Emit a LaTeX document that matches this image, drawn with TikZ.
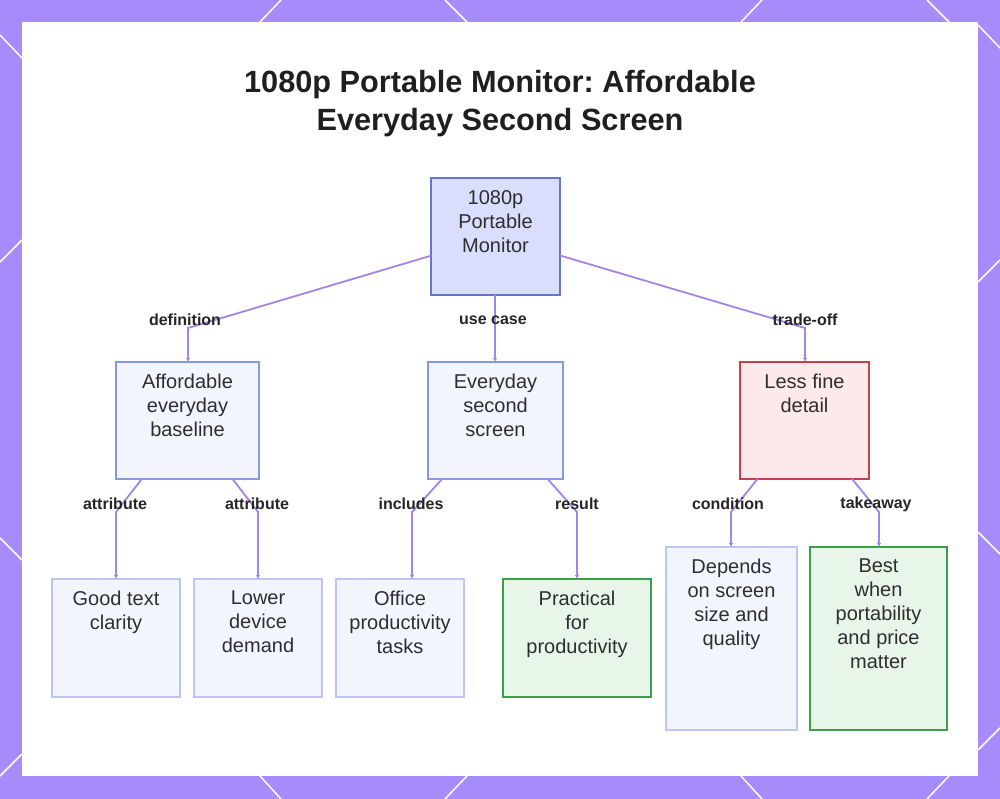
\documentclass[tikz,border=0pt]{standalone}
\usepackage{fontspec}
\setmainfont{Liberation Sans}
\usetikzlibrary{arrows.meta}
\frenchspacing
\definecolor{bgpurple}{HTML}{A78BFA}
\definecolor{rootfill}{HTML}{D9DEFC}
\definecolor{rootdraw}{HTML}{6A74CC}
\definecolor{bluefill}{HTML}{F3F5FE}
\definecolor{bluedraw}{HTML}{8797E0}
\definecolor{lightdraw}{HTML}{BEC5F2}
\definecolor{redfill}{HTML}{FDE8EB}
\definecolor{reddraw}{HTML}{C73E4C}
\definecolor{greenfill}{HTML}{E8F5E9}
\definecolor{greendraw}{HTML}{3BA04A}
\definecolor{conncol}{HTML}{A384E8}
\definecolor{txtcol}{HTML}{2E2E2E}
\tikzset{
  boxbase/.style={draw, line width=1.4pt, inner sep=0pt, outer sep=0pt, anchor=north west},
  rootbox/.style={boxbase, fill=rootfill, draw=rootdraw},
  midbox/.style={boxbase, fill=bluefill, draw=bluedraw},
  leafbox/.style={boxbase, fill=bluefill, draw=lightdraw},
  redbox/.style={boxbase, fill=redfill, draw=reddraw},
  greenbox/.style={boxbase, fill=greenfill, draw=greendraw},
  boxtxt/.style={anchor=north, inner sep=0pt, align=center, text=txtcol, font=\fontsize{20}{24}\selectfont},
  edgelbl/.style={inner sep=0pt, text=black!85, font=\bfseries\fontsize{16}{19}\selectfont},
  conn/.style={draw=conncol, line width=1.8pt, -{Latex[length=4pt,width=4.5pt]}},
  deco/.style={draw=white, line width=1.5pt},
}
\begin{document}
\begin{tikzpicture}[x=1pt,y=-1pt]
\useasboundingbox (0,0) rectangle (1000,799);
\fill[bgpurple] (0,0) rectangle (1000,799);
% decorative lattice lines in the border
\draw[deco] (281,0) -- (260,22);
\draw[deco] (445,0) -- (467,22);
\draw[deco] (762,0) -- (741,22);
\draw[deco] (927,0) -- (949,22);
\draw[deco] (260,776) -- (281,799);
\draw[deco] (467,776) -- (445,799);
\draw[deco] (741,776) -- (762,799);
\draw[deco] (949,776) -- (927,799);
\draw[deco] (0,35) -- (22,58);
\draw[deco] (0,262) -- (22,240);
\draw[deco] (0,538) -- (22,560);
\draw[deco] (0,776) -- (22,754);
\draw[deco] (978,25) -- (1000,48);
\draw[deco] (978,282) -- (1000,260);
\draw[deco] (978,532) -- (1000,554);
\draw[deco] (978,750) -- (1000,728);
% panel
\fill[white] (22,22) rectangle (978,776);

% title
\node[inner sep=0pt, anchor=north, align=center, text=black!88, font=\bfseries\fontsize{30.7}{38}\selectfont] (title) at (500,70)
  {1080p Portable Monitor: Affordable\\Everyday Second Screen};

% boxes
\node[rootbox, minimum width=129pt, minimum height=117pt] (root) at (431,178) {};
\node[boxtxt] (roott) at ([yshift=-12pt]root.north) {1080p\\Portable\\Monitor};

\node[midbox, minimum width=143pt, minimum height=117pt] (aff) at (116,362) {};
\node[boxtxt] (afft) at ([yshift=-12pt]aff.north) {Affordable\\everyday\\baseline};

\node[midbox, minimum width=135pt, minimum height=117pt] (every) at (428,362) {};
\node[boxtxt] (everyt) at ([yshift=-12pt]every.north) {Everyday\\second\\screen};

\node[redbox, minimum width=129pt, minimum height=117pt] (less) at (740,362) {};
\node[boxtxt] (lesst) at ([yshift=-12pt]less.north) {Less fine\\detail};

\node[leafbox, minimum width=128pt, minimum height=118pt] (good) at (52,579) {};
\node[boxtxt] (goodt) at ([yshift=-12pt]good.north) {Good text\\clarity};

\node[leafbox, minimum width=128pt, minimum height=118pt] (lower) at (194,579) {};
\node[boxtxt] (lowert) at ([yshift=-12pt]lower.north) {Lower\\device\\demand};

\node[leafbox, minimum width=128pt, minimum height=118pt] (office) at (336,579) {};
\node[boxtxt] (officet) at ([yshift=-12pt]office.north) {Office\\productivity\\tasks};

\node[greenbox, minimum width=148pt, minimum height=118pt] (pract) at (503,579) {};
\node[boxtxt] (practt) at ([yshift=-12pt]pract.north) {Practical\\for\\productivity};

\node[leafbox, minimum width=131pt, minimum height=183pt] (dep) at (666,547) {};
\node[boxtxt] (dept) at ([yshift=-12pt]dep.north) {Depends\\on screen\\size and\\quality};

\node[greenbox, minimum width=137pt, minimum height=183pt] (best) at (810,547) {};
\node[boxtxt] (bestt) at ([yshift=-12pt]best.north) {Best\\when\\portability\\and price\\matter};

% bend points
\coordinate (k1) at (188,328);
\coordinate (k2) at (495,300);
\coordinate (k3) at (805,328);
\coordinate (k4) at (116,512);
\coordinate (k5) at (258,512);
\coordinate (k6) at (412,512);
\coordinate (k7) at (577,512);
\coordinate (k8) at (731,512);
\coordinate (k9) at (879,512);

% connectors
\draw[conn] (root) -- (k1) -- (k1 |- aff.north);
\draw[conn] (k2 |- root.south) -- (k2 |- every.north);
\draw[conn] (root) -- (k3) -- (k3 |- less.north);
\draw[conn] (aff) -- (k4) -- (k4 |- good.north);
\draw[conn] (aff) -- (k5) -- (k5 |- lower.north);
\draw[conn] (every) -- (k6) -- (k6 |- office.north);
\draw[conn] (every) -- (k7) -- (k7 |- pract.north);
\draw[conn] (less) -- (k8) -- (k8 |- dep.north);
\draw[conn] (less) -- (k9) -- (k9 |- best.north);

% edge labels
\node[edgelbl] (l1) at (185,320) {definition};
\node[edgelbl] (l2) at (493,320) {use case};
\node[edgelbl] (l3) at (805,320) {trade-off};
\node[edgelbl] (l4) at (115,504) {attribute};
\node[edgelbl] (l5) at (257,504) {attribute};
\node[edgelbl] (l6) at (411,504) {includes};
\node[edgelbl] (l7) at (577,504) {result};
\node[edgelbl] (l8) at (728,504) {condition};
\node[edgelbl] (l9) at (876,504) {takeaway};
\end{tikzpicture}
\end{document}
